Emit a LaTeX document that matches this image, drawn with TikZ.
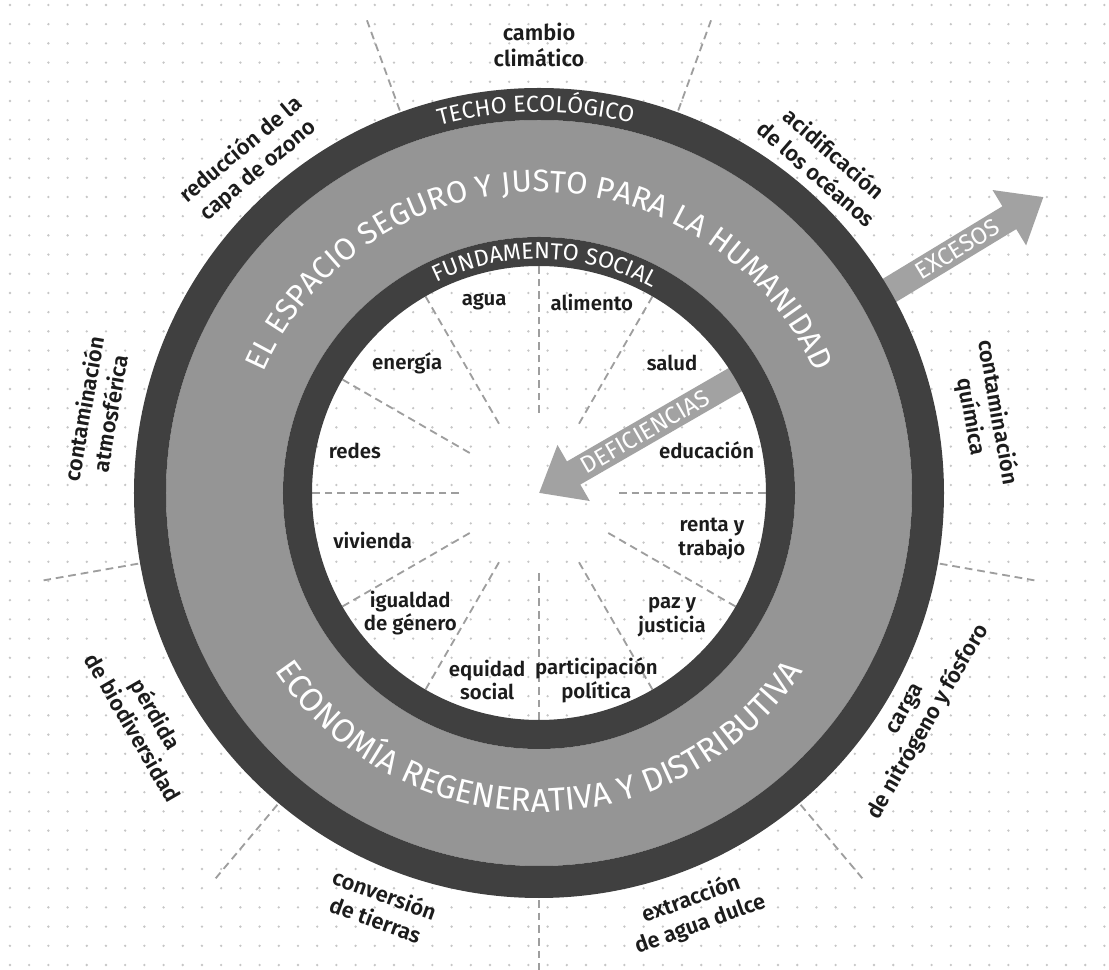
\documentclass[tikz,border=0pt]{standalone}
\usepackage{fontspec}
\setmainfont{Fira Sans}[BoldFont={Fira Sans SemiBold}]
\usetikzlibrary{arrows.meta,decorations.text,positioning}
\definecolor{ringdark}{HTML}{404040}
\definecolor{ringgray}{HTML}{959595}
\definecolor{arrowgray}{HTML}{A2A2A2}
\definecolor{dotgray}{HTML}{C6C6C6}
\definecolor{dashgray}{HTML}{9E9E9E}
\definecolor{labelink}{HTML}{1C1C1C}
\tikzset{
    boundary/.style={align=center, inner sep=0pt, text=labelink,
        font=\fontsize{15.5}{19}\selectfont\bfseries},
    need/.style={align=center, inner sep=0pt, text=labelink,
        font=\fontsize{14.5}{17}\selectfont\bfseries},
    sector/.style={dashgray, line width=1.3pt, dash pattern=on 5.5pt off 3.5pt},
    bigarrow/.style={arrowgray, line width=19pt, -{Triangle[length=1cm,width=1.55cm]}},
    arrowtext/.style={text=white, sloped, inner sep=0pt,
        font=\fontsize{17}{17}\selectfont}
}

\begin{document}
\begin{tikzpicture}[x=0.025cm, y=0.025cm]

    \useasboundingbox (-539,-477) rectangle (570,493);
    \fill[white] (-539,-477) rectangle (570,493);

    % dotted paper
    \foreach \i in {0,...,57}{
        \foreach \j in {0,...,50}{
            \fill[dotgray] ({-529+19.2*\i},{488-19.2*\j}) circle (1.3);
        }
    }

    % separators of the nine boundaries and of the twelve needs
    \foreach \a in {110,70,...,-170}
        \draw[sector] (\a:407) -- (\a:503);
    \foreach \a in {0,30,...,330}
        \draw[sector] (\a:80) -- (\a:227);

    \coordinate (hub) at (0,0);
    \coordinate (defStart) at (30:240);
    \coordinate (excStart) at (30:395);
    \coordinate (excTip) at (30.4:585);

    \draw[bigarrow] (defStart) -- (hub)
        node[arrowtext, pos=0.49] (deficiencias) {DEFICIENCIAS};
    \draw[bigarrow] (excStart) -- (excTip)
        node[arrowtext, pos=0.47] (excesos) {EXCESOS};

    % the doughnut
    \fill[ringgray, even odd rule] (hub) circle (373) circle (256);
    \fill[ringdark, even odd rule] (hub) circle (405) circle (373);
    \fill[ringdark, even odd rule] (hub) circle (256) circle (227);

    \path[decorate, decoration={text along path, text align=center,
        text={|\color{white}\fontsize{16.5}{16.5}\selectfont|TECHO ECOLÓGICO}}]
        (150:381) arc[start angle=150, end angle=31, radius=381];
    \path[decorate, decoration={text along path, text align=center,
        text={|\color{white}\fontsize{16.5}{16.5}\selectfont|FUNDAMENTO SOCIAL}}]
        (150:234) arc[start angle=150, end angle=27, radius=234];
    \path[decorate, decoration={text along path, text align=center,
        text={|\color{white}\fontsize{22}{22}\selectfont|EL ESPACIO SEGURO Y JUSTO PARA LA HUMANIDAD}}]
        (170:301) arc[start angle=170, end angle=10, radius=301];
    \path[decorate, decoration={text along path, text align=center,
        text={|\color{white}\fontsize{23.5}{23.5}\selectfont|ECONOMÍA REGENERATIVA Y DISTRIBUTIVA}}]
        (-170:319) arc[start angle=-170, end angle=-10, radius=319];

    % planetary boundaries
    \node[boundary] (clima) at (90:448) {cambio\\climático};
    \node[boundary, rotate=-41] (oceanos) at (49:437) {acidificación\\de los océanos};
    \node[boundary, rotate=-80] (quimica) at (10:452) {contaminación\\química};
    \node[boundary, rotate=60] (nitrogeno) at (-30.5:440) {carga\\de nitrógeno y fósforo};
    \node[boundary, rotate=20] (aguadulce) at (-69.5:447) {extracción\\de agua dulce};
    \node[boundary, rotate=-20] (tierras) at (-111:443) {conversión\\de tierras};
    \node[boundary, rotate=-60] (biodiv) at (-150:455) {pérdida\\de biodiversidad};
    \node[boundary, rotate=80] (atmosfera) at (169.5:450) {contaminación\\atmosférica};
    \node[boundary, rotate=40] (ozono) at (131:441) {reducción de la\\capa de ozono};

    % social needs
    \node[need] (agua) at (106:199) {agua};
    \node[need] (alimento) at (74.5:198) {alimento};
    \node[need] (salud) at (44.3:186) {salud};
    \node[need] (educacion) at (14.4:173) {educación};
    \node[need] (renta) at (-15:179) {renta y\\trabajo};
    \node[need] (paz) at (-43:182) {paz y\\justicia};
    \node[need] (participacion) at (-73:196) {participación\\política};
    \node[need] (equidad) at (-105.5:194) {equidad\\social};
    \node[need] (igualdad) at (-137:176) {igualdad\\de género};
    \node[need] (vivienda) at (-164:173) {vivienda};
    \node[need] (redes) at (167:189) {redes};
    \node[need] (energia) at (135.4:185) {energía};

\end{tikzpicture}
\end{document}
